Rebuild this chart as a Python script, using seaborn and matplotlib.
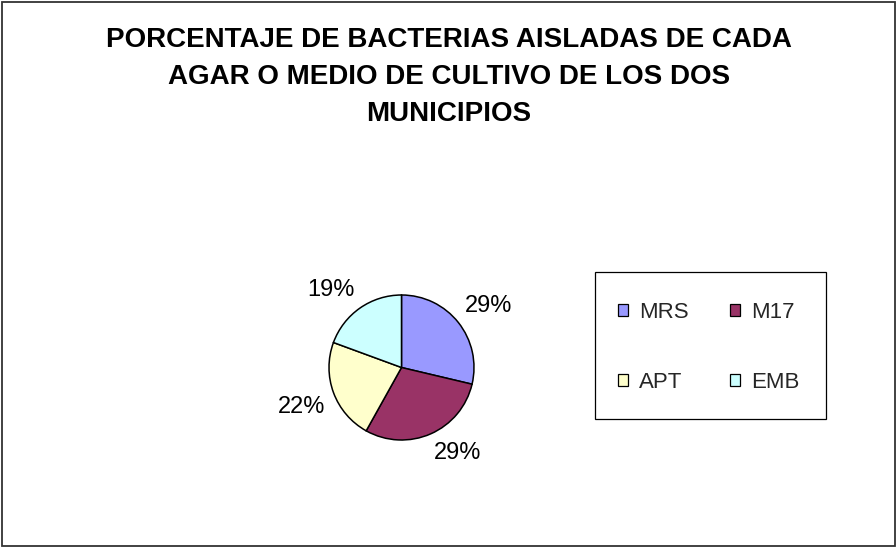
import matplotlib
matplotlib.use("Agg")
import numpy as np
import matplotlib.pyplot as plt
import matplotlib.patches as mpatches
import seaborn as sns

# Data
categories = ["MRS", "M17", "APT", "EMB"]
percentages = [28.7, 29.4, 22.5, 19.4]
colors = ["#9999FF", "#993366", "#FFFFCC", "#CCFFFF"]
pct_labels = ["29%", "29%", "22%", "19%"]
title_lines = ["PORCENTAJE DE BACTERIAS AISLADAS DE CADA",
               "AGAR O MEDIO DE CULTIVO DE LOS DOS",
               "MUNICIPIOS"]

sns.set_style("white")
plt.rcParams["font.family"] = ["Liberation Sans", "DejaVu Sans"]

W, H = 896, 547
fig = plt.figure(figsize=(W / 100, H / 100), dpi=100)

# Outer chart border
fig.patches.append(mpatches.Rectangle((1.5 / W, 1.5 / H), (W - 3) / W, (H - 3) / H,
                                      transform=fig.transFigure, fill=False,
                                      edgecolor="#333333", linewidth=1.3))

# Title, three centred lines
for i, line in enumerate(title_lines):
    y = 47 + i * 37
    fig.text(449 / W, 1 - y / H, line, ha="center", va="baseline",
             fontsize=20, fontweight="bold", color="black")

# Pie axes: centre (401.5, 367.5) px, radius 72.5 px
r = 72.5
side = 2 * r * 1.25
cx, cy = 401.5, 367.5
ax = fig.add_axes([(cx - side / 2) / W, 1 - (cy + side / 2) / H, side / W, side / H])
wedges, _ = ax.pie(
    percentages, colors=colors, startangle=90, counterclock=False,
    wedgeprops=dict(edgecolor="black", linewidth=1.1))
ax.set_xlim(-1.25, 1.25)
ax.set_ylim(-1.25, 1.25)
ax.set_aspect("equal")
ax.axis("off")

# Percent labels outside, box corner anchored on the mid-angle (Excel style)
for w, lab in zip(wedges, pct_labels):
    ang = np.deg2rad((w.theta1 + w.theta2) / 2)
    x, y = 1.12 * np.cos(ang), 1.12 * np.sin(ang)
    ax.text(x, y, lab, fontsize=17, color="black",
            ha="left" if x > 0 else "right",
            va="bottom" if y > 0 else "top")

# Legend (row-major order: MRS M17 / APT EMB)
order = [0, 2, 1, 3]
handles = [mpatches.Patch(facecolor=colors[i], edgecolor="black", linewidth=0.9) for i in order]
fig.legend(handles, [categories[i] for i in order], loc="upper left",
           bbox_to_anchor=(618 / W, 1 - 302 / H), bbox_transform=fig.transFigure,
           ncol=2, fontsize=16, frameon=False, borderpad=0, borderaxespad=0,
           handlelength=0.45, handleheight=0.45, handletextpad=0.5,
           labelspacing=2.2, columnspacing=1.85)
fig.patches.append(mpatches.Rectangle((595 / W, 1 - 419 / H), 231 / W, 147 / H,
                                      transform=fig.transFigure, fill=False,
                                      edgecolor="black", linewidth=0.9))

fig.savefig("out.png", dpi=100)
